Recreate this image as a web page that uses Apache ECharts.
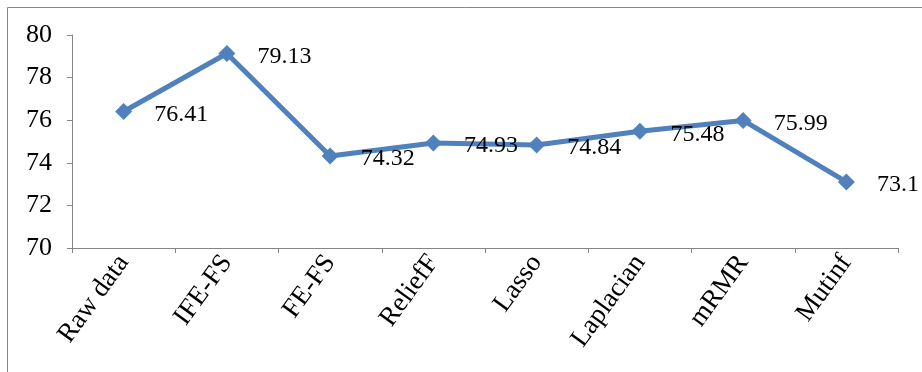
<!DOCTYPE html>
<html>
<head>
<meta charset="utf-8">
<script src="https://cdn.jsdelivr.net/npm/echarts@6/dist/echarts.min.js"></script>
<style>
  html, body { margin: 0; padding: 0; background: #fff; }
  #main { width: 922px; height: 372px; }
</style>
</head>
<body>
<div id="main"></div>
<script>
// data
var categories = ["Raw data", "IFE-FS", "FE-FS", "ReliefF", "Lasso", "Laplacian", "mRMR", "Mutinf"];
var accuracy = [76.41, 79.13, 74.32, 74.93, 74.84, 75.48, 75.99, 73.1];
var yTicks = { min: 70, max: 80, step: 2 };

var font = "'Liberation Serif', 'DejaVu Serif', serif";
var axisGray = "#868686";

var myChart = echarts.init(document.getElementById("main"));
var option = {
  animation: false,
  backgroundColor: "#fff",
  textStyle: { fontFamily: font, fontSize: 24, color: "#000" },
  graphic: [
    {
      type: "rect",
      shape: { x: 7.5, y: 7.5, width: 1000, height: 1000 },
      style: { fill: "none", stroke: axisGray, lineWidth: 1 },
      silent: true
    }
  ],
  grid: { left: 72, top: 35, right: 24, bottom: 124 },
  xAxis: {
    type: "category",
    data: categories,
    boundaryGap: true,
    axisLine: { lineStyle: { color: axisGray, width: 1 } },
    axisTick: { show: true, alignWithLabel: false, length: 5, lineStyle: { color: axisGray } },
    axisLabel: {
      rotate: 54,
      margin: 10,
      color: "#000",
      fontFamily: font,
      fontSize: 27
    },
    splitLine: { show: false }
  },
  yAxis: {
    type: "value",
    min: yTicks.min,
    max: yTicks.max,
    interval: yTicks.step,
    axisLine: { show: true, lineStyle: { color: axisGray, width: 1 } },
    axisTick: { show: true, length: 5, lineStyle: { color: axisGray } },
    axisLabel: {
      show: true,
      margin: 20,
      formatter: "{n|{value}}",
      rich: {
        n: { fontFamily: font, fontSize: 26, color: "#000" }
      }
    },
    splitLine: { show: false }
  },
  series: [
    {
      type: "line",
      data: accuracy,
      symbol: "diamond",
      symbolSize: 17,
      lineStyle: { color: "#4F81BD", width: 5 },
      itemStyle: { color: "#4F81BD" },
      label: {
        show: true,
        position: "right",
        distance: 22,
        offset: [0, 3],
        color: "#000",
        fontFamily: font,
        fontSize: 24
      }
    }
  ]
};
myChart.setOption(option);
</script>
</body>
</html>
